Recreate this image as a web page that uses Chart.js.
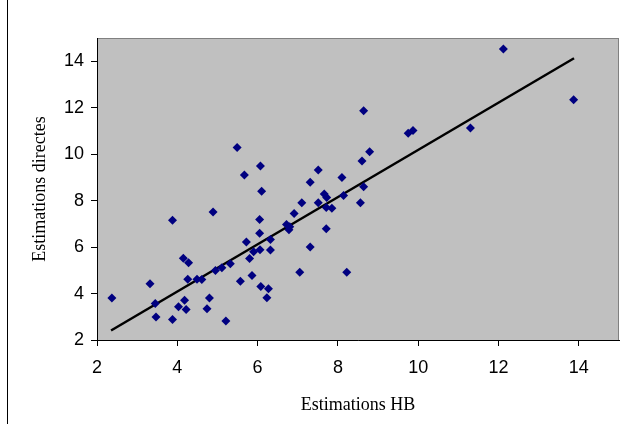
<!DOCTYPE html>
<html>
<head>
<meta charset="utf-8">
<script src="https://cdn.jsdelivr.net/npm/chart.js@4"></script>
<style>
  body { margin: 0; background: #fff; }
  #wrap { width: 638px; height: 424px; }
</style>
</head>
<body>
<div id="wrap"><canvas id="chart" width="638" height="424"></canvas></div>
<script>
// Estimations HB (x) vs. Estimations directes (y)
const estimationsHB = [
  2.37, 3.32, 3.45, 3.47, 3.88, 3.88, 4.89, 4.15, 4.28, 4.26, 4.49, 4.61,
  4.18, 4.03, 4.22, 4.80, 4.74, 4.95, 5.11, 5.32, 5.21, 5.57, 5.72, 5.80,
  5.86, 5.90, 6.06, 6.05, 6.05, 6.08, 6.10, 5.49, 5.67, 6.07, 6.32, 6.32,
  6.27, 6.23, 7.51, 7.31, 8.10, 7.10, 7.66, 7.72, 7.51, 8.14, 6.91, 7.71,
  7.85, 6.72, 6.80, 6.78, 7.71, 7.31, 7.05, 8.22, 8.64, 9.75, 9.87, 8.79,
  8.60, 8.64, 8.56, 11.30, 12.12, 13.87
];
const estimationsDirectes = [
  3.81, 4.42, 3.57, 2.99, 7.16, 2.88, 7.51, 5.52, 5.32, 4.62, 4.62, 4.60,
  3.71, 3.43, 3.31, 3.81, 3.34, 4.99, 5.11, 5.28, 2.82, 4.53, 6.22, 5.51,
  4.78, 5.80, 5.88, 7.19, 6.59, 4.30, 8.40, 10.29, 9.10, 9.49, 6.33, 5.87,
  4.21, 3.82, 9.32, 8.79, 8.99, 7.91, 8.28, 8.13, 7.91, 8.22, 7.45, 7.70,
  7.67, 6.97, 6.88, 6.75, 6.79, 6.00, 4.92, 4.92, 11.87, 10.90, 11.02, 10.10,
  9.71, 8.60, 7.91, 11.13, 14.53, 12.34
];
// fitted line end points
const trendX = [2.35, 13.88];
const trendY = [2.41, 14.13];

const points = estimationsHB.map((x, i) => ({x: x, y: estimationsDirectes[i]}));
const trend = trendX.map((x, i) => ({x: x, y: trendY[i]}));

Chart.defaults.font.family = "'Liberation Sans', Arial, sans-serif";
Chart.defaults.color = '#000';

const plotBg = {
  id: 'plotBg',
  beforeDraw(chart) {
    const {ctx, chartArea: a} = chart;
    ctx.save();
    ctx.fillStyle = '#c0c0c0';
    ctx.fillRect(a.left, a.top, a.right - a.left, a.bottom - a.top);
    ctx.strokeStyle = '#808080';
    ctx.lineWidth = 1;
    ctx.strokeRect(a.left + 0.5, a.top + 0.5, a.right - a.left - 1, a.bottom - a.top);
    // outer frame, left side
    ctx.strokeStyle = '#000';
    ctx.beginPath();
    ctx.moveTo(7.5, 0);
    ctx.lineTo(7.5, 424);
    ctx.stroke();
    ctx.restore();
  }
};

new Chart(document.getElementById('chart'), {
  type: 'scatter',
  data: {
    datasets: [{
      data: points,
      pointStyle: 'rectRot',
      pointRadius: 4.5,
      pointHoverRadius: 4.5,
      backgroundColor: '#000080',
      borderColor: '#000080',
      borderWidth: 0
    }, {
      data: trend,
      showLine: true,
      borderColor: '#000',
      borderWidth: 2.5,
      pointRadius: 0
    }]
  },
  options: {
    responsive: false,
    animation: false,
    layout: { padding: { left: 0, right: 19, top: 38, bottom: 0 } },
    plugins: { legend: { display: false }, tooltip: { enabled: false } },
    scales: {
      x: {
        type: 'linear',
        min: 2, max: 15,
        afterFit(s) { s.height = 84; },
        ticks: { stepSize: 2, includeBounds: false, padding: 11, font: { size: 18 } },
        grid: { drawOnChartArea: false, tickLength: 6, color: '#000' },
        border: { color: '#000', width: 1 },
        title: {
          display: true,
          text: 'Estimations HB',
          font: { family: "'Liberation Serif', 'Times New Roman', serif", size: 18 },
          padding: { top: 0, bottom: 8 }
        }
      },
      y: {
        type: 'linear',
        min: 2, max: 15,
        afterFit(s) { s.width = 97; },
        ticks: { stepSize: 2, includeBounds: false, padding: 7, font: { size: 18 } },
        grid: { drawOnChartArea: false, tickLength: 6, color: '#000' },
        border: { color: '#000', width: 1 },
        title: {
          display: true,
          text: 'Estimations directes',
          font: { family: "'Liberation Serif', 'Times New Roman', serif", size: 18 },
          padding: { top: 29, bottom: 0 }
        }
      }
    }
  },
  plugins: [plotBg]
});
</script>
</body>
</html>
